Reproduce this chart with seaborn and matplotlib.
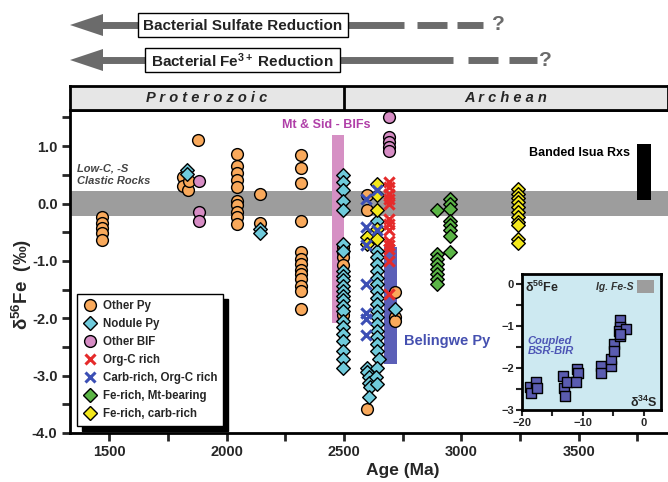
import matplotlib
matplotlib.use('Agg')
import matplotlib.pyplot as plt
import seaborn as sns
from matplotlib.patches import Rectangle, Polygon
from matplotlib.lines import Line2D
from matplotlib.ticker import MultipleLocator

# ---- data: age (Ma) and d56Fe (permil) ----
other_py_age = [1467, 1467, 1467, 1467, 1467,
                1815, 1815, 1835, 1840, 1876,
                2045, 2045, 2045, 2045, 2045, 2045, 2045, 2045, 2045, 2045,
                2142, 2142,
                2315, 2315, 2315, 2315, 2315, 2315, 2315, 2315, 2315, 2315, 2315, 2315, 2315,
                2497, 2497, 2497, 2497, 2497,
                2597, 2597, 2597,
                2717, 2717, 2717]
other_py_d56 = [-0.24, -0.34, -0.42, -0.52, -0.63,
                0.46, 0.30, 0.23, 0.40, 1.10,
                0.87, 0.66, 0.53, 0.41, 0.28, 0.05, -0.03, -0.15, -0.24, -0.35,
                0.17, -0.34,
                0.84, 0.62, 0.36, -0.30, -0.85, -0.97, -1.06, -1.16, -1.23, -1.31, -1.43, -1.53, -1.84,
                -0.76, -0.85, -0.94, -1.08, -1.95,
                0.14, -0.12, -3.58,
                -1.55, -1.98, -2.04]

nodule_age = [1830, 1830,
              2142, 2142,
              2497, 2497, 2497, 2497, 2497, 2497, 2497, 2497, 2497, 2497, 2497, 2497,
              2497, 2497, 2497, 2497, 2497, 2497, 2497, 2497, 2497, 2497, 2497,
              2597, 2600, 2605, 2605, 2610, 2605,
              2642, 2642, 2642, 2642, 2642, 2642, 2642, 2642, 2642, 2642, 2642,
              2642, 2642, 2642, 2642, 2642, 2642, 2648, 2642, 2638, 2642,
              2717]
nodule_d56 = [0.59, 0.52,
              -0.45, -0.52,
              0.49, 0.37, 0.23, 0.05, -0.12, -0.70, -0.82, -1.17, -1.26, -1.34, -1.43, -1.52,
              -1.61, -1.69, -1.78, -1.87, -2.04, -2.16, -2.27, -2.39, -2.57, -2.71, -2.86,
              -2.86, -2.94, -3.03, -3.12, -3.20, -3.38,
              -0.30, -0.82, -0.94, -1.05, -1.17, -1.29, -1.40, -1.52, -1.64, -1.75, -1.87,
              -1.98, -2.10, -2.22, -2.33, -2.45, -2.57, -2.71, -2.86, -3.03, -3.15,
              -1.84]

other_bif_age = [1883, 1883, 1883, 2690, 2690, 2690, 2690, 2690]
other_bif_d56 = [0.39, -0.15, -0.31, 1.51, 1.16, 1.07, 0.98, 0.92]

orgc_age = [2690, 2690, 2690, 2690, 2690, 2690, 2690, 2690, 2690, 2690, 2690, 2690, 2690]
orgc_d56 = [0.37, 0.28, 0.17, 0.08, -0.01, -0.27, -0.36, -0.47, -0.65, -0.72, -0.80, -1.00, -1.58]

carb_orgc_age = [2639, 2639, 2592, 2592, 2592, 2592, 2592, 2592, 2592]
carb_orgc_d56 = [0.23, -0.47, 0.08, -0.41, -0.73, -1.40, -1.90, -2.02, -2.30]

fe_mt_age = [2895, 2895, 2895, 2895, 2895, 2895, 2895, 2895,
             2952, 2952, 2952, 2952, 2952, 2952, 2952, 2952]
fe_mt_d56 = [-0.12, -0.88, -0.97, -1.05, -1.14, -1.23, -1.31, -1.40,
             0.08, -0.01, -0.09, -0.30, -0.38, -0.47, -0.56, -0.85]

fe_carb_age = [2597, 2597, 2642, 2642, 2642, 2642, 2642,
               3243, 3243, 3243, 3243, 3243, 3243, 3243, 3243, 3243, 3243, 3243]
fe_carb_d56 = [-0.59, -0.70, 0.34, 0.14, -0.12, -0.44, -0.62,
               0.26, 0.17, 0.10, 0.02, -0.06, -0.15, -0.24, -0.33, -0.38, -0.62, -0.69]

# inset: Belingwe pyrite d34S vs d56Fe
bel_d34s = [-18.6, -18.5, -17.65, -17.5, -13.2, -13.0, -12.9, -12.5, -10.95, -10.8, -11.1,
            -6.96, -7.0, -5.3, -5.3, -4.8, -4.8, -3.8, -3.8, -4.1, -3.8, -2.85, -3.9]
bel_d56fe = [-2.46, -2.60, -2.32, -2.48, -2.18, -2.48, -2.66, -2.32, -2.02, -2.12, -2.32,
             -1.94, -2.12, -1.94, -1.78, -1.42, -1.58, -0.84, -1.02, -1.12, -1.24, -1.07, -1.18]

# colours
c_orange = '#f9a95b'
c_nodule = '#6fcadb'
c_pink = '#d68cc4'
c_red = '#e52b2b'
c_bluex = '#3c4fb5'
c_green = '#5bb546'
c_yellow = '#f3e81c'
c_gray = '#6b6b6b'

sns.set_style('white')
plt.rcParams['font.family'] = ['Liberation Sans', 'DejaVu Sans']
plt.rcParams['mathtext.fontset'] = 'custom'
plt.rcParams['mathtext.rm'] = 'Liberation Sans'
plt.rcParams['mathtext.bf'] = 'Liberation Sans:bold'
plt.rcParams['mathtext.it'] = 'Liberation Sans:italic'

W, H = 668, 482
fig = plt.figure(figsize=(W / 100, H / 100), dpi=100)

# overlay in pixel coordinates for the arrows and connector lines
ov = fig.add_axes([0, 0, 1, 1])
ov.set_xlim(0, W)
ov.set_ylim(H, 0)
ov.axis('off')


def arrow(y, box, solid_end, dashes, q_x, label):
    ov.add_patch(Polygon([(70, y), (103, y - 11), (103, y + 11)], closed=True,
                         color=c_gray, lw=0))
    ov.plot([100, solid_end], [y, y], color=c_gray, lw=5, solid_capstyle='butt')
    for d0, d1 in dashes:
        ov.plot([d0, d1], [y, y], color=c_gray, lw=5, solid_capstyle='butt')
    ov.add_patch(Rectangle((box[0], y - 12), box[1] - box[0], 24, fc='white',
                           ec='black', lw=1, zorder=3))
    ov.text((box[0] + box[1]) / 2, y + 1, label, ha='center', va='center',
            fontsize=11, fontweight='bold', color='#222222', zorder=4)
    ov.text(q_x, y, '?', ha='center', va='center', fontsize=15,
            fontweight='bold', color=c_gray)


arrow(25, (138, 348), 404, [(417, 447), (457, 483)], 498,
      'Bacterial Sulfate Reduction')
arrow(60, (145, 340), 453, [(468, 498), (509, 537)], 545,
      r'Bacterial Fe$^{\mathbf{3+}}$ Reduction')

ov.plot([466, 507], [329, 289], color='#4550b0', lw=1.8)
ov.plot([466, 507], [355, 394], color='#4550b0', lw=1.8)

# ---- main axes ----
x0, x1 = 1332, 3881
ax = fig.add_axes([70 / W, 1 - 433 / H, (W - 70) / W, (433 - 110) / H])
ax.set_xlim(x0, x1)
ax.set_ylim(-4.0, 1.63)

ax.axhspan(-0.22, 0.22, color='#9d9d9d', lw=0, zorder=0.5)
ax.add_patch(Rectangle((2450, -2.08), 50, 3.28, color='#d690c4', lw=0, zorder=1))
ax.add_patch(Rectangle((2672, -2.80), 55, 2.04, color='#5b5fb7', lw=0, zorder=1))
ax.add_patch(Rectangle((3748, 0.06), 60, 0.98, color='black', lw=0, zorder=1))

kw_fill = dict(edgecolor='black', linewidth=1, legend=False, ax=ax, zorder=3)
sns.scatterplot(x=other_py_age, y=other_py_d56, marker='o', s=72, color=c_orange, **kw_fill)
sns.scatterplot(x=nodule_age, y=nodule_d56, marker='D', s=48, color=c_nodule, **kw_fill)
sns.scatterplot(x=other_bif_age, y=other_bif_d56, marker='o', s=72, color=c_pink, **kw_fill)
sns.scatterplot(x=fe_mt_age, y=fe_mt_d56, marker='D', s=48, color=c_green, **kw_fill)
sns.scatterplot(x=fe_carb_age, y=fe_carb_d56, marker='D', s=48, color=c_yellow, **kw_fill)
sns.scatterplot(x=orgc_age, y=orgc_d56, marker='x', s=55, color=c_red, linewidth=2.2,
                legend=False, ax=ax, zorder=4)
sns.scatterplot(x=carb_orgc_age, y=carb_orgc_d56, marker='x', s=55, color=c_bluex,
                linewidth=2.2, legend=False, ax=ax, zorder=4)

ax.text(1363, 0.61, 'Low-C, -S', fontsize=8, fontweight='bold', style='italic',
        color='#444444', va='center')
ax.text(1363, 0.39, 'Clastic Rocks', fontsize=8, fontweight='bold', style='italic',
        color='#444444', va='center')
ax.text(2423, 1.37, 'Mt & Sid - BIFs', fontsize=9, fontweight='bold', color='#b03fa8',
        ha='center', va='center')
ax.text(3719, 0.885, 'Banded Isua Rxs', fontsize=9, fontweight='bold', color='black',
        ha='right', va='center')
ax.text(2755, -2.40, 'Belingwe Py', fontsize=10.5, fontweight='bold', color='#4550b0',
        ha='left', va='center')

ax.set_xticks([1500, 2000, 2500, 3000, 3500])
ax.xaxis.set_minor_locator(MultipleLocator(250))
ax.set_yticks([-4, -3, -2, -1, 0, 1])
ax.set_yticklabels(['-4.0', '-3.0', '-2.0', '-1.0', '0.0', '1.0'])
ax.yaxis.set_minor_locator(MultipleLocator(0.5))
ax.tick_params(which='major', direction='out', length=6, width=2, labelsize=10.5, pad=3,
               left=True, bottom=True)
ax.tick_params(which='minor', direction='out', length=6, width=2, left=True, bottom=True)
for lab in ax.get_xticklabels() + ax.get_yticklabels():
    lab.set_fontweight('bold')
for side in ['left', 'bottom', 'top']:
    ax.spines[side].set_linewidth(2)
    ax.spines[side].set_color('black')
ax.spines['right'].set_visible(False)

ax.set_xlabel('Age (Ma)', fontsize=12.5, fontweight='bold')
ax.set_ylabel(r'δ$^{\mathbf{56}}$Fe  (‰)', fontsize=13.5, fontweight='bold')
ax.xaxis.set_label_coords(0.557, -0.092)
ax.yaxis.set_label_coords(-0.06, 0.46)

handles = [
    Line2D([], [], ls='none', marker='o', ms=8.5, mfc=c_orange, mec='k', label='Other Py'),
    Line2D([], [], ls='none', marker='D', ms=7, mfc=c_nodule, mec='k', label='Nodule Py'),
    Line2D([], [], ls='none', marker='o', ms=8.5, mfc=c_pink, mec='k', label='Other BIF'),
    Line2D([], [], ls='none', marker='x', ms=7.5, mew=2.2, color=c_red, label='Org-C rich'),
    Line2D([], [], ls='none', marker='x', ms=7.5, mew=2.2, color=c_bluex,
           label='Carb-rich, Org-C rich'),
    Line2D([], [], ls='none', marker='D', ms=7, mfc=c_green, mec='k', label='Fe-rich, Mt-bearing'),
    Line2D([], [], ls='none', marker='D', ms=7, mfc=c_yellow, mec='k', label='Fe-rich, carb-rich'),
]
leg = ax.legend(handles=handles, loc='lower left', bbox_to_anchor=(0.012, 0.022),
                borderaxespad=0, fancybox=False, framealpha=1, edgecolor='black',
                prop={'size': 8.3, 'weight': 'bold'}, labelspacing=0.52, handletextpad=0.45,
                handlelength=1.3, borderpad=0.5,
                shadow={'ox': 3.5, 'oy': -3.5, 'color': 'black', 'alpha': 1})
leg.get_frame().set_linewidth(1)
leg.set_zorder(6)

# ---- era header ----
hd = fig.add_axes([70 / W, 1 - 110 / H, (W - 70) / W, 24 / H])
hd.set_xlim(x0, x1)
hd.set_ylim(0, 1)
hd.set_facecolor('#e6e6e6')
hd.set_xticks([])
hd.set_yticks([])
for side in hd.spines.values():
    side.set_linewidth(2)
    side.set_color('black')
hd.axvline(2500, color='black', lw=2)
hd.text((x0 + 2500) / 2, 0.5, 'P r o t e r o z o i c', ha='center', va='center',
        fontsize=10.5, fontweight='bold', style='italic')
hd.text((2500 + x1) / 2, 0.5, 'A r c h e a n', ha='center', va='center',
        fontsize=10.5, fontweight='bold', style='italic')

# ---- inset ----
ins = fig.add_axes([521.7 / W, 1 - 410 / H, 139 / W, 136 / H])
ins.set_facecolor('#cde9f1')
ins.set_xlim(-20, 2.8)
ins.set_ylim(-3, 0.25)
sns.scatterplot(x=bel_d34s, y=bel_d56fe, marker='s', s=48, color='#5a5cb0',
                edgecolor='black', linewidth=1, legend=False, ax=ins, zorder=3)
ins.set_xticks([-20, -10, 0])
ins.xaxis.set_minor_locator(MultipleLocator(5))
ins.set_yticks([0, -1, -2, -3])
ins.yaxis.set_minor_locator(MultipleLocator(0.5))
ins.tick_params(which='both', direction='out', length=4, width=1.5, labelsize=8, pad=1.5,
                left=True, bottom=True)
for lab in ins.get_xticklabels() + ins.get_yticklabels():
    lab.set_fontweight('bold')
for side in ins.spines.values():
    side.set_linewidth(2)
    side.set_color('black')
ins.add_patch(Rectangle((-1.1, -0.2), 2.74, 0.3, color='#9d9d9d', lw=0))
ins.text(-1.6, -0.05, 'Ig. Fe-S', fontsize=7.5, fontweight='bold', style='italic',
         ha='right', va='center', color='#333333')
ins.text(-19.4, -0.07, r'δ$^{\mathbf{56}}$Fe', fontsize=9, fontweight='bold',
         ha='left', va='center')
ins.text(2.3, -2.82, r'δ$^{\mathbf{34}}$S', fontsize=9, fontweight='bold',
         ha='right', va='center')
ins.text(-19.0, -1.34, 'Coupled', fontsize=8, fontweight='bold', style='italic',
         color='#4d55b5', va='center')
ins.text(-19.0, -1.58, 'BSR-BIR', fontsize=8, fontweight='bold', style='italic',
         color='#4d55b5', va='center')
ins.set_xlabel('')
ins.set_ylabel('')

fig.savefig('out.png', dpi=100)
